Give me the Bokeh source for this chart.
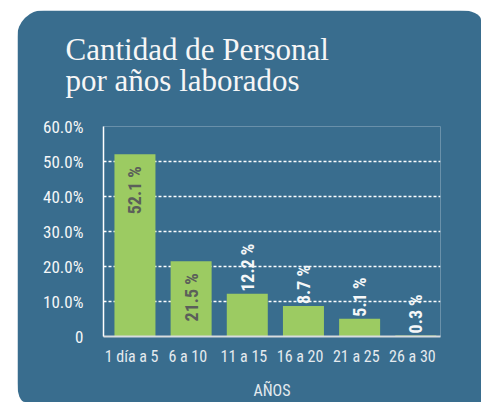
import math
from bokeh.plotting import figure
from bokeh.models import (ColumnDataSource, FactorRange, Range1d, FixedTicker,
                          CustomJSTickFormatter)
from bokeh.transform import dodge
from bokeh.core.properties import value
from bokeh.embed import file_html
from bokeh.resources import INLINE

# ---- data ----
categories = ["1 día a 5", "6 a 10", "11 a 15", "16 a 20", "21 a 25", "26 a 30"]
percentages = [52.1, 21.5, 12.2, 8.7, 5.1, 0.3]
value_labels = ["52.1 %", "21.5 %", "12.2 %", "8.7 %", "5.1 %", "0.3 %"]
y_ticks = [0, 10, 20, 30, 40, 50, 60]
grid_ticks = [10, 20, 30, 40, 50, 60]
title_lines = ["Cantidad de Personal", "por años laborados"]
x_title = "AÑOS"

# ---- style ----
BG = "#396D8E"
GREEN = "#9CCB62"
INSIDE_TXT = "#5B5F5A"
WHITE = "#F5F7F8"
COND = "'Liberation Sans Narrow', 'Roboto Condensed', Roboto, sans-serif"
SERIF = "'Liberation Serif', 'DejaVu Serif', serif"

inside = [i for i, v in enumerate(percentages) if v > 15]
outside = [i for i, v in enumerate(percentages) if v <= 15]

src = ColumnDataSource(dict(cat=categories, pct=percentages, lab=value_labels))
src_in = ColumnDataSource(dict(cat=[categories[i] for i in inside],
                               pct=[percentages[i] for i in inside],
                               lab=[value_labels[i] for i in inside]))
src_out = ColumnDataSource(dict(cat=[categories[i] for i in outside],
                                pct=[percentages[i] for i in outside],
                                lab=[value_labels[i] for i in outside]))

p = figure(width=464, height=392,
           x_range=FactorRange(*categories, range_padding=0),
           y_range=Range1d(0, 60),
           output_backend="svg", toolbar_location=None,
           min_border_left=86, min_border_right=41,
           min_border_top=116, min_border_bottom=61)

p.styles = {
    "position": "relative", "left": "17px", "top": "10px",
    "border-radius": "27px 21px 0px 8px / 27px 10px 0px 19px",
    "overflow": "hidden",
}

p.background_fill_color = BG
p.border_fill_color = BG
p.outline_line_color = None

# two-line title (trailing blank line keeps the gap above the plot)
p.title.text = "\n".join(title_lines) + "\n "
p.title.align = "left"
p.title.vertical_align = "bottom"
p.title.offset = -38
p.title.standoff = -6
p.title.text_font = SERIF
p.title.text_font_size = "31px"
p.title.text_font_style = "normal"
p.title.text_line_height = 0.9
p.title.text_color = "#F6F6F6"

xs = dodge("cat", 0.06, range=p.x_range)
p.vbar(x=xs, top="pct", width=0.73, source=src, fill_color=GREEN, line_color=None)

p.text(x=xs, y="pct", text="lab", source=src_in, angle=math.pi / 2,
       text_align="right", text_baseline="middle", y_offset=12,
       text_font=value(COND), text_font_style="bold", text_font_size="18px",
       text_color=INSIDE_TXT)
p.text(x=xs, y="pct", text="lab", source=src_out, angle=math.pi / 2,
       text_align="left", text_baseline="middle", y_offset=-2,
       text_font=value(COND), text_font_style="bold", text_font_size="18px",
       text_color=WHITE)

# axes
p.xaxis.axis_line_color = "#D8DCDE"
p.xaxis.axis_line_width = 2
p.xaxis.major_tick_line_color = None
p.xaxis.minor_tick_line_color = None
p.xaxis.major_label_text_font = COND
p.xaxis.major_label_text_font_size = "16px"
p.xaxis.major_label_text_color = "#E4EAEE"
p.xaxis.major_label_standoff = 4
p.xaxis.axis_label = x_title
p.xaxis.axis_label_text_font = COND
p.xaxis.axis_label_text_font_size = "16px"
p.xaxis.axis_label_text_font_style = "normal"
p.xaxis.axis_label_text_color = "#E4EAEE"
p.xaxis.axis_label_standoff = 12

p.yaxis.ticker = FixedTicker(ticks=y_ticks)
p.yaxis.formatter = CustomJSTickFormatter(
    code="return tick == 0 ? '0' : tick.toFixed(1) + '%';")
p.yaxis.bounds = (0, 60)
p.yaxis.axis_line_color = "#FFFFFF"
p.yaxis.axis_line_width = 1.5
p.yaxis.major_tick_line_color = None
p.yaxis.minor_tick_line_color = None
p.yaxis.major_label_text_font = COND
p.yaxis.major_label_text_font_size = "17px"
p.yaxis.major_label_text_color = WHITE
p.yaxis.major_label_standoff = 14

p.xgrid.grid_line_color = None
p.ygrid.ticker = FixedTicker(ticks=grid_ticks)
p.ygrid.grid_line_color = "#FFFFFF"
p.ygrid.grid_line_dash = "3 2"
p.ygrid.grid_line_width = 1.3

open("out.html", "w").write(file_html(p, INLINE))
